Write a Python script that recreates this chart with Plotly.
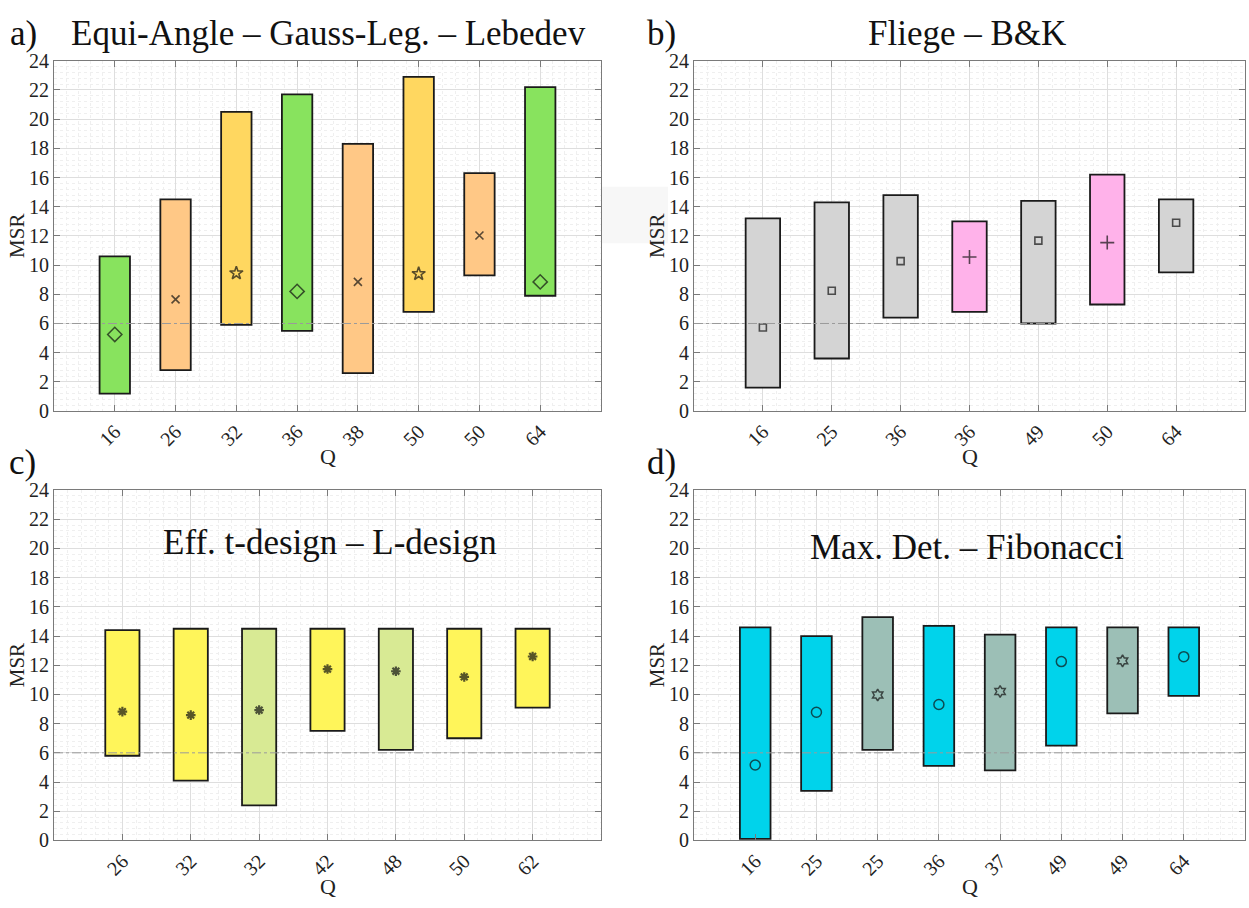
import plotly.graph_objects as go

# ---------------- data ----------------
# a) Equi-Angle - Gauss-Leg. - Lebedev
a_q = ["16", "26", "32", "36", "38", "50", "50", "64"]
a_top = [10.6, 14.5, 20.5, 21.7, 18.3, 22.9, 16.3, 22.2]
a_bot = [1.2, 2.8, 5.9, 5.5, 2.6, 6.8, 9.3, 7.9]
a_mid = [5.25, 7.65, 9.45, 8.2, 8.85, 9.4, 12.03, 8.85]
a_grp = ["L", "E", "G", "L", "E", "G", "E", "L"]

# b) Fliege - B&K
b_q = ["16", "25", "36", "36", "49", "50", "64"]
b_top = [13.2, 14.3, 14.8, 13.0, 14.4, 16.2, 14.5]
b_bot = [1.6, 3.6, 6.4, 6.8, 6.0, 7.3, 9.5]
b_mid = [5.73, 8.24, 10.27, 10.56, 11.68, 11.54, 12.9]
b_grp = ["F", "F", "F", "B", "F", "B", "F"]

# c) Eff. t-design - L-design
c_q = ["26", "32", "32", "42", "48", "50", "62"]
c_top = [14.4, 14.5, 14.5, 14.5, 14.5, 14.5, 14.5]
c_bot = [5.8, 4.1, 2.4, 7.5, 6.2, 7.0, 9.1]
c_mid = [8.82, 8.58, 8.93, 11.74, 11.59, 11.2, 12.6]
c_grp = ["T", "T", "D", "T", "D", "T", "T"]

# d) Max. Det. - Fibonacci
d_q = ["16", "25", "25", "36", "37", "49", "49", "64"]
d_top = [14.6, 14.0, 15.3, 14.7, 14.1, 14.6, 14.6, 14.6]
d_bot = [0.1, 3.4, 6.2, 5.1, 4.8, 6.5, 8.7, 9.9]
d_mid = [5.17, 8.78, 9.96, 9.31, 10.2, 12.25, 12.3, 12.59]
d_grp = ["M", "M", "Fi", "M", "Fi", "M", "Fi", "M"]

threshold = 6

# ---------------- styles ----------------
fill = {
    "L": "#88E35E", "E": "#FFC886", "G": "#FFD760",
    "F": "#D4D4D4", "B": "#FFB2EA",
    "T": "#FFF55A", "D": "#D8EA94",
    "M": "#00D3EB", "Fi": "#9CBFB6",
}
symbol = {
    "L": ("diamond-open", 11, 1.5), "E": ("x-thin-open", 8, 1.6),
    "G": ("star-open", 10, 1.6),
    "F": ("square-open", 7, 1.6), "B": ("cross-thin-open", 10, 1.6),
    "T": ("asterisk-open", 8, 2.2), "D": ("asterisk-open", 8, 2.2),
    "M": ("circle-open", 10, 1.5), "Fi": ("hexagram-open", 9, 1.5),
}

FONT = "Times New Roman, Liberation Serif, DejaVu Serif, serif"
W, H = 1249, 908

# plot-area boxes in pixels: (left, right, top, bottom)
boxes = {
    1: (54, 601, 51, 410),
    2: (694, 1245, 51, 410),
    3: (54, 601, 491, 850),
    4: (694, 1245, 491, 850),
}

fig = go.Figure()

panels = [
    (1, a_q, a_top, a_bot, a_mid, a_grp),
    (2, b_q, b_top, b_bot, b_mid, b_grp),
    (3, c_q, c_top, c_bot, c_mid, c_grp),
    (4, d_q, d_top, d_bot, d_mid, d_grp),
]

for idx, q, top, bot, mid, grp in panels:
    xa = "x" if idx == 1 else f"x{idx}"
    ya = "y" if idx == 1 else f"y{idx}"
    pos = list(range(1, len(q) + 1))
    fig.add_trace(go.Bar(
        x=pos, y=[t - b for t, b in zip(top, bot)], base=bot, width=0.5,
        marker=dict(color=[fill[g] for g in grp],
                    line=dict(color="#1a1a1a", width=1.8)),
        xaxis=xa, yaxis=ya, showlegend=False, hoverinfo="skip",
    ))
    fig.add_trace(go.Scatter(
        x=pos, y=mid, mode="markers", xaxis=xa, yaxis=ya, showlegend=False,
        marker=dict(symbol=[symbol[g][0] for g in grp],
                    size=[symbol[g][1] for g in grp],
                    color="#111111",
                    line=dict(color="#111111", width=[symbol[g][2] for g in grp])),
    ))

    l, r, t, b = boxes[idx]
    xkey = "xaxis" if idx == 1 else f"xaxis{idx}"
    ykey = "yaxis" if idx == 1 else f"yaxis{idx}"
    fig.layout[xkey] = dict(
        domain=[l / W, r / W], anchor=ya, range=[0, len(q) + 1],
        tickvals=pos, ticktext=q, tickangle=-45,
        showgrid=True, gridcolor="#dedede", gridwidth=1,
        minor=dict(dtick=0.2, tick0=0, showgrid=True, gridcolor="#efefef",
                   griddash="dot", ticks=""),
        showline=True, linecolor="#7a7a7a", linewidth=1.2, mirror="ticks",
        ticks="inside", ticklen=6, tickcolor="#7a7a7a",
        tickfont=dict(family=FONT, size=20, color="#222222"),
        zeroline=False, fixedrange=True,
    )
    fig.layout[ykey] = dict(
        domain=[(H - b) / H, (H - t) / H], anchor=xa, range=[0, 24],
        dtick=2, tick0=0,
        showgrid=True, gridcolor="#dedede", gridwidth=1,
        minor=dict(dtick=0.4, tick0=0, showgrid=True, gridcolor="#efefef",
                   griddash="dot", ticks=""),
        showline=True, linecolor="#7a7a7a", linewidth=1.2, mirror="ticks",
        ticks="inside", ticklen=6, tickcolor="#7a7a7a",
        tickfont=dict(family=FONT, size=20, color="#222222"),
        zeroline=False, fixedrange=True,
    )
    # reference level
    fig.add_shape(type="line", xref=f"{xa} domain", yref=ya,
                  x0=0, x1=1, y0=threshold, y1=threshold,
                  line=dict(color="#9a9a9a", width=1, dash="dashdot"))
    # axis titles
    fig.add_annotation(text="MSR", xref="paper", yref="paper",
                       x=(l - 37) / W, y=(H - (t + b) / 2) / H, textangle=-90,
                       showarrow=False, xanchor="center", yanchor="middle",
                       font=dict(family=FONT, size=21, color="#222222"))
    fig.add_annotation(text="Q", xref="paper", yref="paper",
                       x=((l + r) / 2) / W, y=(H - (b + 47)) / H,
                       showarrow=False, xanchor="center", yanchor="middle",
                       font=dict(family=FONT, size=22, color="#222222"))

# faint background patch beside the upper right panel
fig.add_shape(type="rect", xref="paper", yref="paper", layer="below",
              x0=602 / W, x1=668 / W, y0=(H - 238) / H, y1=(H - 180) / H,
              fillcolor="#f7f7f7", line=dict(width=0))

# panel letters and titles
title_font = dict(family=FONT, size=35, color="#111111")
labels = [
    ("a)", 8, 23), ("b)", 645, 23),
    ("c)", 7, 463), ("d)", 645, 463),
]
for txt, x, y in labels:
    fig.add_annotation(text=txt, xref="paper", yref="paper", x=x / W, y=(H - y) / H,
                       showarrow=False, xanchor="left", yanchor="middle", font=title_font)

titles = [
    ("Equi-Angle – Gauss-Leg. – Lebedev", 328, 23),
    ("Fliege – B&K", 967, 23),
    ("Eff. t-design – L-design", 330, 545),
    ("Max. Det. – Fibonacci", 967, 550),
]
for txt, x, y in titles:
    fig.add_annotation(text=txt, xref="paper", yref="paper", x=x / W, y=(H - y) / H,
                       showarrow=False, xanchor="center", yanchor="middle", font=title_font)

fig.update_layout(
    width=W, height=H, margin=dict(l=0, r=0, t=0, b=0),
    paper_bgcolor="white", plot_bgcolor="white",
    barmode="overlay", font=dict(family=FONT),
)

fig.write_html("out.html")
